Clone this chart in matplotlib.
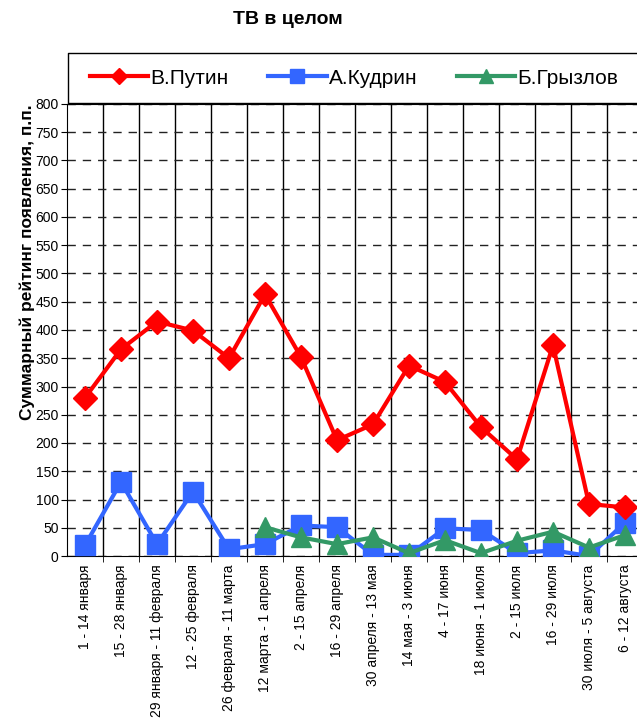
import numpy as np
import matplotlib.pyplot as plt
from matplotlib.lines import Line2D
from matplotlib.ticker import MultipleLocator

plt.rcParams['font.family'] = ['Liberation Sans', 'DejaVu Sans']

periods = ["1 - 14 января", "15 - 28 января", "29 января - 11 февраля",
           "12 - 25 февраля", "26 февраля - 11 марта", "12 марта - 1 апреля",
           "2 - 15 апреля", "16 - 29 апреля", "30 апреля - 13 мая",
           "14 мая - 3 июня", "4 - 17 июня", "18 июня - 1 июля",
           "2 - 15 июля", "16 - 29 июля", "30 июля - 5 августа",
           "6 - 12 августа"]
putin = [280, 366, 415, 399, 350, 463, 352, 205, 233, 337, 308, 228, 171, 373, 92, 86]
kudrin = [19, 131, 21, 114, 12, 21, 54, 51, 2, 2, 49, 46, 5, 10, 0, 59]
gryzlov = [None, None, None, None, None, 51, 33, 21, 33, 5, 28, 5, 27, 43, 15, 37]

x = np.arange(len(periods))
gry = np.array([np.nan if v is None else v for v in gryzlov], dtype=float)

fig = plt.figure(figsize=(6.37, 7.18), dpi=100)
ax = fig.add_axes([67/637, 1-556/718, (643-67)/637, (556-104)/718])

ax.plot(x, putin, color='#FF0000', lw=3, marker='D', ms=12, label='В.Путин', zorder=5)
ax.plot(x, kudrin, color='#3366FF', lw=3, marker='s', ms=14, label='А.Кудрин', zorder=3)
ax.plot(x, gry, color='#339966', lw=3, marker='^', ms=14, label='Б.Грызлов', zorder=4)

ax.set_xlim(-0.5, len(periods) - 0.5)
ax.set_ylim(0, 800)
ax.yaxis.set_major_locator(MultipleLocator(50))
ax.set_xticks(x)
ax.set_xticklabels(periods, rotation=90, fontsize=10)
ax.set_xticks(x[:-1] + 0.5, minor=True)
ax.tick_params(axis='x', which='major', length=0, pad=6)
ax.tick_params(axis='x', which='minor', length=4, direction='out', color='black')
ax.tick_params(axis='y', length=4, direction='out', labelsize=10, pad=2)

ax.grid(True, which='minor', axis='x', color='black', lw=1, ls='-')
ax.grid(True, which='major', axis='y', color='#222222', lw=1, ls=(0, (6, 5)))
ax.set_axisbelow(True)
for s in ['left', 'bottom', 'top']:
    ax.spines[s].set_color('black')
ax.spines['right'].set_visible(False)

ax.set_ylabel('Суммарный рейтинг появления, п.п.', fontsize=12.5, fontweight='bold', va='center')
ax.yaxis.set_label_coords((27 - 67) / 576, (556 - 262) / 452)

fig.text(288/637, 1-20/718, 'ТВ в целом', ha='center', va='center',
         fontsize=14, fontweight='bold')

# legend frame, open on the right (it runs off the figure)
x0, x1 = 68/637, 1.0
y0, y1 = 1-103/718, 1-53/718
fig.add_artist(Line2D([x1, x0, x0, x1], [y1, y1, y0, y0],
                      transform=fig.transFigure, color='black', lw=1))
fig.legend(loc='center left', bbox_to_anchor=(90/637, 1-78/718),
           ncol=3, fontsize=15, frameon=False, borderpad=0, borderaxespad=0,
           handlelength=2.8, handletextpad=0.1, columnspacing=1.9, markerscale=0.7)

fig.savefig('out.png', dpi=100)
